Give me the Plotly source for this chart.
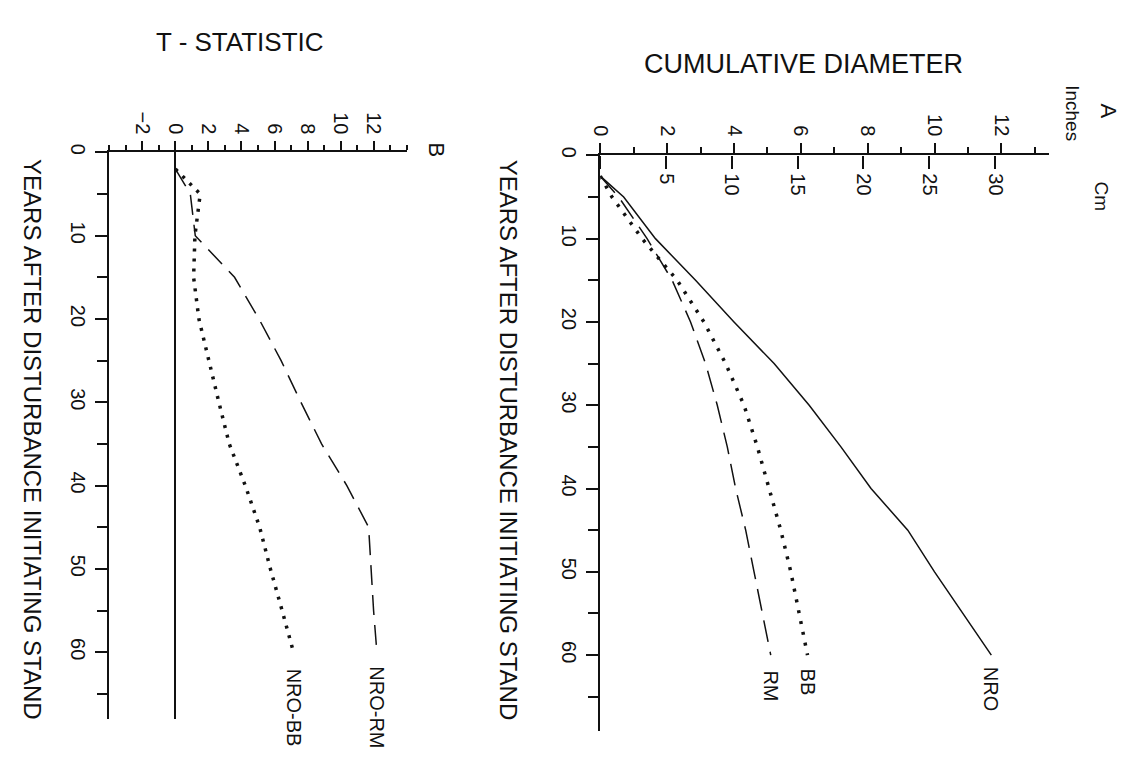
import plotly.graph_objects as go

W, H = 1133, 759

# ---------------- data ----------------
# Panel A: cumulative diameter (inches) vs years after disturbance
years_a = [2.5, 5, 10, 15, 20, 25, 30, 35, 40, 45, 50, 55, 60]
nro_in = [0, 0.7, 1.65, 2.85, 4.0, 5.2, 6.25, 7.2, 8.1, 9.2, 10.0, 10.85, 11.7]
bb_in = [0, 0.35, 1.25, 2.3, 3.1, 3.75, 4.3, 4.7, 5.05, 5.4, 5.7, 5.95, 6.2]
rm_in = [0, 0.55, 1.4, 2.15, 2.7, 3.15, 3.5, 3.8, 4.05, 4.35, 4.6, 4.85, 5.1]

# Panel B: T-statistic vs years
years_b = [2, 5, 10, 15, 20, 25, 30, 35, 40, 45, 50, 55, 60]
t_nro_rm = [0, 0.9, 1.2, 3.58, 5.06, 6.4, 7.6, 8.85, 10.38, 11.7, 11.85, 12.0, 12.2]
t_nro_bb = [0, 1.5, 1.18, 1.1, 1.42, 2.0, 2.63, 3.26, 4.23, 5.1, 5.75, 6.46, 7.15]

inch_ticks = [0, 2, 4, 6, 8, 10, 12]
cm_ticks = [0, 5, 10, 15, 20, 25, 30]
cm_labels = ["", "5", "10", "15", "20", "25", "30"]
t_ticks = [-2, 0, 2, 4, 6, 8, 10, 12]
year_ticks = [0, 10, 20, 30, 40, 50, 60]

FONT = "Liberation Sans"
BLACK = "#111111"


def px_x(p):
    return p / W


def px_y(p):
    return 1 - p / H


fig = go.Figure()

# Panel A traces
fig.add_trace(go.Scatter(x=nro_in, y=years_a, mode="lines", xaxis="x", yaxis="y",
                         line=dict(color=BLACK, width=1.5), showlegend=False))
fig.add_trace(go.Scatter(x=bb_in, y=years_a, mode="lines", xaxis="x", yaxis="y",
                         line=dict(color=BLACK, width=3.5, dash="3px,8px"), showlegend=False))
fig.add_trace(go.Scatter(x=rm_in, y=years_a, mode="lines", xaxis="x", yaxis="y",
                         line=dict(color=BLACK, width=1.5, dash="22px,10px"), showlegend=False))
# invisible trace to activate the cm axis
fig.add_trace(go.Scatter(x=[v * 2.54 for v in nro_in], y=years_a, mode="lines",
                         xaxis="x3", yaxis="y", line=dict(width=0), opacity=0,
                         hoverinfo="skip", showlegend=False))

# Panel B traces
fig.add_trace(go.Scatter(x=t_nro_rm, y=years_b, mode="lines", xaxis="x2", yaxis="y2",
                         line=dict(color=BLACK, width=1.5, dash="20px,10px"), showlegend=False))
fig.add_trace(go.Scatter(x=t_nro_bb, y=years_b, mode="lines", xaxis="x2", yaxis="y2",
                         line=dict(color=BLACK, width=3.5, dash="3px,7px"), showlegend=False))

tickfont = dict(family=FONT, size=20, color=BLACK)

# geometry (pixels)
A_x0, A_x1 = 587, 1040
A_y0, A_y1 = 140, 723
IN_PX = 33.75
YR_PX = 8.43
B_x0, B_x1 = 91.3, 391.4
B_y0, B_y1 = 137, 710

a_xmax = (A_x1 - A_x0) / IN_PX
a_ymax = (A_y1 - A_y0) / YR_PX
b_ymax = (B_y1 - B_y0) / YR_PX

fig.update_layout(
    width=W, height=H,
    margin=dict(l=0, r=0, t=0, b=0),
    paper_bgcolor="white", plot_bgcolor="white",
    font=dict(family=FONT, color=BLACK),
    xaxis=dict(domain=[px_x(A_x0), px_x(A_x1)], range=[0, a_xmax], anchor="y", side="top",
               showline=True, linecolor=BLACK, linewidth=2, showgrid=False, zeroline=False,
               tickmode="array", tickvals=inch_ticks, ticks="outside", ticklen=10,
               tickwidth=1.5, tickcolor=BLACK, tickangle=90, tickfont=tickfont,
               minor=dict(dtick=1, tick0=0, ticks="outside", ticklen=6, tickwidth=1.5,
                          tickcolor=BLACK, showgrid=False)),
    xaxis3=dict(domain=[px_x(A_x0), px_x(A_x1)], range=[0, a_xmax * 2.54], anchor="free",
                position=px_y(A_y0), overlaying="x", side="bottom", showline=False,
                showgrid=False, zeroline=False,
                tickmode="array", tickvals=cm_ticks, ticktext=cm_labels,
                ticks="outside", ticklen=13, tickwidth=1.5, tickcolor=BLACK,
                tickangle=90, tickfont=tickfont),
    yaxis=dict(domain=[px_y(A_y1), px_y(A_y0)], range=[a_ymax, 0], anchor="x",
               showline=True, linecolor=BLACK, linewidth=2, showgrid=False, zeroline=False,
               tickmode="array", tickvals=year_ticks, ticks="outside", ticklen=12,
               tickwidth=1.5, tickcolor=BLACK, tickangle=90, tickfont=tickfont,
               minor=dict(dtick=5, tick0=0, ticks="outside", ticklen=10, tickwidth=1.5,
                          tickcolor=BLACK, showgrid=False)),
    xaxis2=dict(domain=[px_x(B_x0), px_x(B_x1)], range=[-4, 14], anchor="y2", side="top",
                showline=True, linecolor=BLACK, linewidth=2, showgrid=False,
                zeroline=True, zerolinecolor=BLACK, zerolinewidth=1.5,
                tickmode="array", tickvals=t_ticks, ticks="outside", ticklen=9,
                tickwidth=1.5, tickcolor=BLACK, tickangle=90, tickfont=tickfont,
                minor=dict(dtick=1, tick0=0, ticks="outside", ticklen=5, tickwidth=1.5,
                           tickcolor=BLACK, showgrid=False)),
    yaxis2=dict(domain=[px_y(B_y1), px_y(B_y0)], range=[b_ymax, 0], anchor="x2",
                showline=True, linecolor=BLACK, linewidth=2, showgrid=False, zeroline=False,
                tickmode="array", tickvals=year_ticks, ticks="outside", ticklen=12,
                tickwidth=1.5, tickcolor=BLACK, tickangle=90, tickfont=tickfont,
                minor=dict(dtick=5, tick0=0, ticks="outside", ticklen=10, tickwidth=1.5,
                           tickcolor=BLACK, showgrid=False)),
)

ann = []


def paper_text(text, x, y, size, angle=0):
    ann.append(dict(text=text, x=px_x(x), y=px_y(y), xref="paper", yref="paper",
                    showarrow=False, textangle=angle, xanchor="center", yanchor="middle",
                    font=dict(family=FONT, size=size, color=BLACK)))


paper_text("CUMULATIVE DIAMETER", 792, 48, 27)
paper_text("T - STATISTIC", 223, 25, 26)
paper_text("YEARS AFTER DISTURBANCE INITIATING STAND", 494, 428, 24, 90)
paper_text("YEARS AFTER DISTURBANCE INITIATING STAND", 13, 428, 24, 90)
paper_text("B", 422, 135, 22, 90)
paper_text("A", 1100, 95, 22, 90)
paper_text("Inches", 1063, 97, 19, 90)
paper_text("Cm", 1093, 182, 19, 90)


def end_label(text, xs, ys, xr, yr, shift, size=20):
    ann.append(dict(text=text, x=xs[-1], y=ys[-1], xref=xr, yref=yr, showarrow=False,
                    textangle=90, xanchor="center", yanchor="middle", yshift=shift,
                    font=dict(family=FONT, size=size, color=BLACK)))


end_label("NRO", nro_in, years_a, "x", "y", -34)
end_label("BB", bb_in, years_a, "x", "y", -27)
end_label("RM", rm_in, years_a, "x", "y", -31)
end_label("NRO-RM", t_nro_rm, years_b, "x2", "y2", -55)
end_label("NRO-BB", t_nro_bb, years_b, "x2", "y2", -55)

fig.update_layout(annotations=ann)

fig.write_html("out.html")
